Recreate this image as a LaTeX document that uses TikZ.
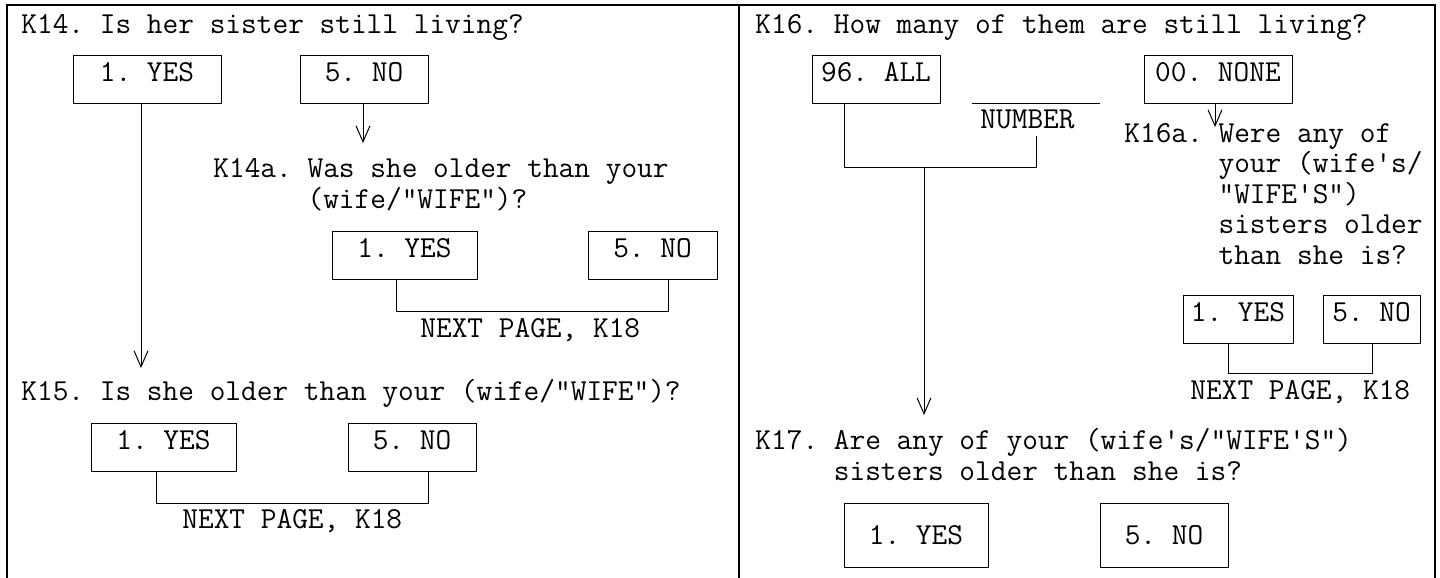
\documentclass[tikz,border=0pt]{standalone}
\usepackage{fontspec}
\usetikzlibrary{arrows.meta,calc}
\tikzset{opt/.style={draw,line width=0.5pt,inner sep=0pt,minimum height=24pt,text depth=7pt}, tall/.style={opt,minimum height=32pt,text depth=0pt}, txt/.style={anchor=base west,inner sep=0pt,align=left}, link/.style={line width=0.5pt}, arrow/.style={link,-{Straight Barb[length=8pt,width=7pt]}}, frame/.style={line width=1pt}}
\begin{document}
\begin{tikzpicture}[x=0.5pt,y=-0.5pt,font=\ttfamily\frenchspacing\fontsize{15.24pt}{15.25pt}\selectfont]
\useasboundingbox (0,0) rectangle (1440,578);
\draw[frame] (7,578)--(7,5)--(1435,5)--(1435,578);\draw[frame] (739,5)--(739,578);
\node[txt] (q14) at (21,33) {K14. Is her sister still living?};
\node[opt,minimum width=74pt] (k14yes) at (147,79) {1. YES};\node[opt,minimum width=64pt] (k14no) at (364,79) {5. NO};
\node[txt] (q14a) at (213,208) {K14a. Was she older than your\\\phantom{K14a. }(wife/"WIFE")?};
\node[opt,minimum width=72.5pt] (k14ayes) at (404.5,255.5) {1. YES};\node[opt,minimum width=64.5pt] (k14ano) at (652.5,255.5) {5. NO};
\node[txt] (n14a) at (420,337) {NEXT PAGE, K18};
\node[txt] (q15) at (21,400) {K15. Is she older than your (wife/"WIFE")?};
\node[opt,minimum width=72.5pt] (k15yes) at (163.5,447) {1. YES};\node[opt,minimum width=64pt] (k15no) at (412,447) {5. NO};
\node[txt] (n15) at (182,528) {NEXT PAGE, K18};
\coordinate (t15) at (141,368);\coordinate (t14a) at (363,143);\coordinate (j14aL) at (396,311);\coordinate (j14aR) at (668,311);\coordinate (j15L) at (156,503);\coordinate (j15R) at (428,503);
\draw[arrow] (k14yes.south -| t15)--(t15);\draw[arrow] (k14no.south -| t14a)--(t14a);
\draw[link] (k14ayes.south -| j14aL)--(j14aL)--(j14aR)--(k14ano.south -| j14aR);\draw[link] (k15yes.south -| j15L)--(j15L)--(j15R)--(k15no.south -| j15R);
\node[txt] (q16) at (755,33) {K16. How many of them are still living?};
\node[opt,minimum width=64pt] (k16all) at (876,79) {96. ALL};\node[opt,minimum width=74pt] (k16none) at (1218,79) {00. NONE};
\node[txt,inner ysep=3.5pt] (num) at (980,128) {NUMBER};\draw[link] (972,103)--(1100,103);
\node[txt] (q16a) at (1124,264) {K16a. Were any of\\\phantom{K16a. }your (wife's/\\\phantom{K16a. }"WIFE'S")\\\phantom{K16a. }sisters older\\\phantom{K16a. }than she is?};
\node[opt,minimum width=55pt] (k16ayes) at (1238,319) {1. YES};\node[opt,minimum width=48.5pt] (k16ano) at (1371.5,319) {5. NO};
\node[txt] (n16a) at (1190,399) {NEXT PAGE, K18};
\node[txt] (q17) at (755,480) {K17. Are any of your (wife's/"WIFE'S")\\\phantom{K17. }sisters older than she is?};
\node[tall,minimum width=72pt] (k17yes) at (916,535) {1. YES};\node[tall,minimum width=64pt] (k17no) at (1164,535) {5. NO};
\coordinate (j16L) at (844,167);\coordinate (j16R) at (1036,167);\coordinate (t17) at (924,415);\coordinate (t16a) at (1215,127);\coordinate (j16aL) at (1228,373);\coordinate (j16aR) at (1372,373);
\draw[link] (k16all.south -| j16L)--(j16L)--(j16R)--(j16R |- num.south);\draw[arrow] (j16L -| t17)--(t17);\draw[arrow] (k16none.south -| t16a)--(t16a);
\draw[link] (k16ayes.south -| j16aL)--(j16aL)--(j16aR)--(k16ano.south -| j16aR);
\end{tikzpicture}
\end{document}
